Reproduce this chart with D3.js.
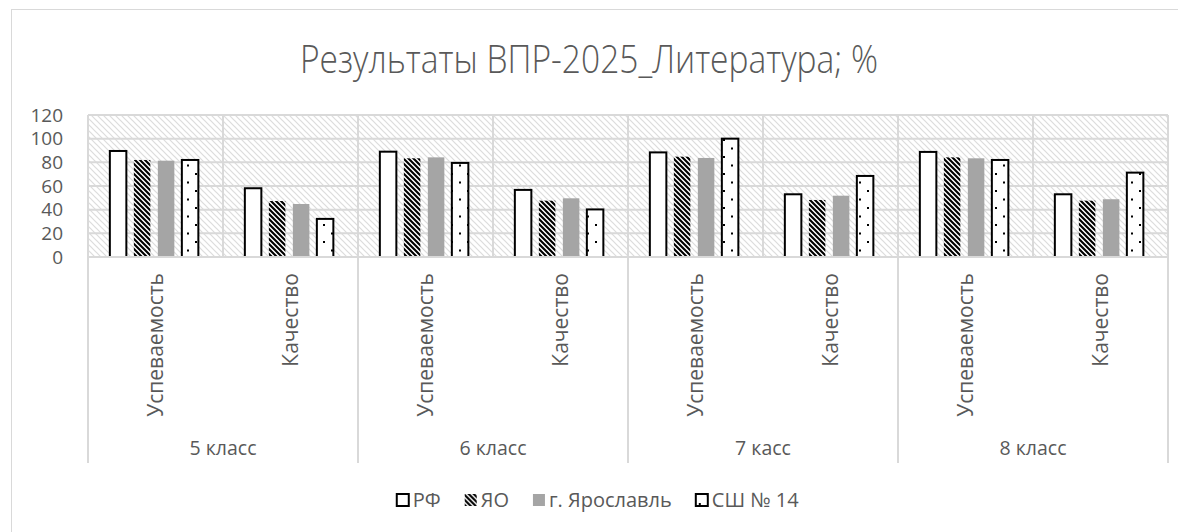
<!DOCTYPE html>
<html>
<head>
<meta charset="utf-8">
<script src="https://cdn.jsdelivr.net/npm/d3@7"></script>
<style>
  body { margin: 0; background: #fff; }
  text { font-family: "Open Sans", "Noto Sans", sans-serif; fill: #595959; }
</style>
</head>
<body>
<div id="chart"></div>
<script>
var width = 1178,
    height = 532;

// data
var classes = ["5 класс", "6 класс", "7 касс", "8 класс"];
var metrics = ["Успеваемость", "Качество"];
var seriesNames = ["РФ", "ЯО", "г. Ярославль", "СШ № 14"];
var rf   = [89.6, 58.1, 89.0, 56.7, 88.4, 53.0, 88.8, 53.0];
var yo   = [82.0, 47.3, 83.4, 47.6, 84.8, 48.2, 84.2, 47.6];
var yar  = [81.4, 44.8, 84.2, 49.6, 83.7, 51.8, 83.4, 48.8];
var sch  = [82.0, 32.2, 79.5, 40.2, 100, 68.5, 82.0, 71.3];
var yTicks = [0, 20, 40, 60, 80, 100, 120];

var seriesValues = [rf, yo, yar, sch];

var plot = {left: 88, right: 1168, top: 115, bottom: 257};
var grid = "#d9d9d9";

var svg = d3.select("#chart").append("svg")
    .attr("width", width)
    .attr("height", height);

var defs = svg.append("defs");

// light downward diagonal behind the plot
var bg = defs.append("pattern")
    .attr("id", "bgHatch")
    .attr("patternUnits", "userSpaceOnUse")
    .attr("width", 6).attr("height", 6);
bg.append("rect").attr("width", 6).attr("height", 6).attr("fill", "#fff");
bg.append("path")
    .attr("d", "M0,0L6,6M-1,5L1,7M5,-1L7,1")
    .attr("stroke", "#dcdcdc").attr("stroke-width", 1.2);

// wide downward diagonal for ЯО
var st = defs.append("pattern")
    .attr("id", "yoStripe")
    .attr("patternUnits", "userSpaceOnUse")
    .attr("width", 5).attr("height", 5);
st.append("rect").attr("width", 5).attr("height", 5).attr("fill", "#fff");
st.append("path")
    .attr("d", "M0,0L5,5M-1,4L1,6M4,-1L6,1")
    .attr("stroke", "#000").attr("stroke-width", 2.1);

// sparse dots for СШ № 14
var dt = defs.append("pattern")
    .attr("id", "dots")
    .attr("patternUnits", "userSpaceOnUse")
    .attr("width", 16).attr("height", 17);
dt.append("rect").attr("width", 16).attr("height", 17).attr("fill", "#fff");
dt.append("rect").attr("x", 3).attr("y", 3).attr("width", 2).attr("height", 2).attr("fill", "#000");
dt.append("rect").attr("x", 11).attr("y", 11.5).attr("width", 2).attr("height", 2).attr("fill", "#000");

var fills = ["#fff", "url(#yoStripe)", "#a5a5a5", "url(#dots)"];
var strokes = ["#000", "none", "none", "#000"];

// outer chart border
svg.append("rect")
    .attr("x", 11.5).attr("y", 9.5)
    .attr("width", 1180).attr("height", 540)
    .attr("fill", "none")
    .attr("stroke", grid);

// title: light, slightly condensed like the original
svg.append("text")
    .attr("transform", "translate(589,73) scale(0.86,1)")
    .attr("text-anchor", "middle")
    .style("font-size", "39px")
    .style("font-weight", 300)
    .text("Результаты ВПР-2025_Литература; %");

var y = d3.scaleLinear()
    .domain([0, 120])
    .range([plot.bottom, plot.top]);

var x0 = d3.scaleBand()
    .domain(classes)
    .range([plot.left, plot.right]);

var x1 = d3.scaleBand()
    .domain(metrics)
    .range([0, x0.bandwidth()]);

var x2 = d3.scaleBand()
    .domain(seriesNames)
    .range([0, x1.bandwidth()])
    .paddingInner(0.3125)
    .paddingOuter(0.96875)
    .align(0.47);

svg.append("rect")
    .attr("x", plot.left).attr("y", plot.top)
    .attr("width", plot.right - plot.left)
    .attr("height", plot.bottom - plot.top)
    .attr("fill", "url(#bgHatch)");

// horizontal gridlines
svg.selectAll(".hgrid")
    .data(yTicks)
    .enter().append("line")
    .attr("class", "hgrid")
    .attr("x1", plot.left).attr("x2", plot.right)
    .attr("y1", function(d) { return y(d); })
    .attr("y2", function(d) { return y(d); })
    .attr("stroke", grid).attr("stroke-width", 2);

// vertical gridlines at every sub-category boundary
var cells = [];
classes.forEach(function(c, i) {
  metrics.forEach(function(m, j) {
    cells.push({cls: c, metric: m, idx: i * 2 + j});
  });
});
var vEdges = cells.map(function(d) { return x0(d.cls) + x1(d.metric); }).concat([plot.right]);

svg.selectAll(".vgrid")
    .data(vEdges)
    .enter().append("line")
    .attr("class", "vgrid")
    .attr("x1", function(d) { return d; }).attr("x2", function(d) { return d; })
    .attr("y1", plot.top).attr("y2", plot.bottom)
    .attr("stroke", grid).attr("stroke-width", 2);

// bars
var barData = [];
cells.forEach(function(cell) {
  seriesNames.forEach(function(s, k) {
    barData.push({cell: cell, series: s, k: k, value: seriesValues[k][cell.idx]});
  });
});

var bw = x2.bandwidth();
svg.selectAll(".bar")
    .data(barData)
    .enter().append("rect")
    .attr("class", "bar")
    .attr("x", function(d) { return x0(d.cell.cls) + x1(d.cell.metric) + x2(d.series); })
    .attr("y", function(d) { return y(d.value); })
    .attr("width", bw)
    .attr("height", function(d) { return y(0) - y(d.value); })
    .attr("fill", function(d) { return fills[d.k]; })
    .attr("stroke", function(d) { return strokes[d.k]; })
    .attr("stroke-width", 2);

// y axis labels
var yAxis = d3.axisLeft(y)
    .tickValues(yTicks)
    .tickSize(0)
    .tickPadding(25);
var gy = svg.append("g")
    .attr("transform", "translate(" + plot.left + ",0)")
    .call(yAxis);
gy.select(".domain").remove();
gy.selectAll("text")
    .style("font-family", "'Open Sans', sans-serif")
    .style("font-size", "19px")
    .attr("fill", "#595959");

// category axis
svg.append("line")
    .attr("x1", plot.left).attr("x2", plot.right)
    .attr("y1", plot.bottom).attr("y2", plot.bottom)
    .attr("stroke", grid).attr("stroke-width", 2);

var groupEdges = classes.map(function(c) { return x0(c); }).concat([plot.right]);
svg.selectAll(".sep")
    .data(groupEdges)
    .enter().append("line")
    .attr("class", "sep")
    .attr("x1", function(d) { return d; }).attr("x2", function(d) { return d; })
    .attr("y1", plot.bottom).attr("y2", 463)
    .attr("stroke", grid).attr("stroke-width", 2);

svg.selectAll(".metricLabel")
    .data(cells)
    .enter().append("text")
    .attr("class", "metricLabel")
    .attr("transform", function(d) {
      var cx = x0(d.cls) + x1(d.metric) + x1.bandwidth() / 2;
      return "translate(" + (cx + 7) + ",273) rotate(-90)";
    })
    .attr("text-anchor", "end")
    .style("font-size", "21px")
    .text(function(d) { return d.metric; });

svg.selectAll(".classLabel")
    .data(classes)
    .enter().append("text")
    .attr("class", "classLabel")
    .attr("x", function(d) { return x0(d) + x0.bandwidth() / 2; })
    .attr("y", 455)
    .attr("text-anchor", "middle")
    .style("font-size", "19.5px")
    .text(function(d) { return d; });

// legend
var legend = svg.append("g").attr("class", "legend");
var items = legend.selectAll(".item")
    .data(seriesNames)
    .enter().append("g")
    .attr("class", "item");
items.append("rect")
    .attr("x", 0).attr("y", -6)
    .attr("width", 12).attr("height", 12)
    .attr("fill", function(d, i) { return fills[i]; })
    .attr("stroke", function(d, i) { return strokes[i]; })
    .attr("stroke-width", 2);
items.append("text")
    .attr("x", 16)
    .attr("y", 7)
    .style("font-size", "20px")
    .text(function(d) { return d; });

var pos = 0, offsets = [];
items.each(function() {
  offsets.push(pos);
  pos += this.getBBox().width + 24;
});
var total = pos - 24;
var start = 598 - total / 2;
items.attr("transform", function(d, i) { return "translate(" + (start + offsets[i]) + ",500)"; });
</script>
</body>
</html>
